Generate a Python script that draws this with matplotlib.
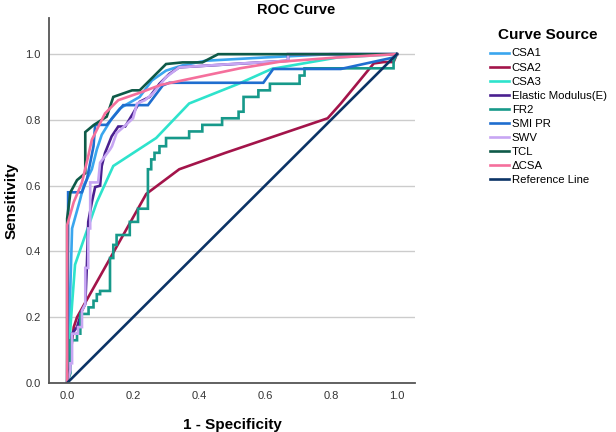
import numpy as np
import matplotlib
matplotlib.use("Agg")
import matplotlib.pyplot as plt

plt.rcParams['font.family'] = ['Liberation Sans', 'DejaVu Sans']

# ROC points (1 - specificity, sensitivity)
csa1_x = [0, 0.005, 0.01, 0.015, 0.04, 0.05, 0.075, 0.09, 0.105, 0.136, 0.16, 0.185, 0.22, 0.257, 0.3, 0.35, 0.42, 0.6, 0.8, 1.0]
csa1_y = [0, 0.1, 0.3, 0.47, 0.56, 0.6, 0.65, 0.71, 0.755, 0.805, 0.835, 0.85, 0.87, 0.92, 0.95, 0.966, 0.98, 0.99, 1.0, 1.0]

csa2_x = [0, 0.02, 0.03, 0.24, 0.34, 0.48, 0.79, 0.83, 0.93, 0.96, 0.99, 1.0]
csa2_y = [0, 0.17, 0.2, 0.575, 0.65, 0.70, 0.805, 0.85, 0.972, 0.976, 0.976, 1.0]

csa3_x = [0, 0.01, 0.015, 0.024, 0.09, 0.14, 0.27, 0.37, 0.52, 0.62, 0.82, 1.0]
csa3_y = [0, 0.17, 0.24, 0.36, 0.55, 0.66, 0.745, 0.85, 0.91, 0.955, 0.99, 1.0]

em_x = [0, 0.01, 0.015, 0.03, 0.045, 0.055, 0.06, 0.064, 0.075, 0.085, 0.1, 0.105, 0.115, 0.135, 0.155, 0.176, 0.2, 0.22, 0.25, 0.28, 0.31, 0.34, 0.67, 0.67, 1.0]
em_y = [0, 0.06, 0.15, 0.17, 0.22, 0.24, 0.36, 0.49, 0.55, 0.596, 0.6, 0.66, 0.70, 0.75, 0.78, 0.78, 0.82, 0.855, 0.87, 0.91, 0.94, 0.96, 0.98, 1.0, 1.0]

fr2_x = [0, 0.01, 0.01, 0.03, 0.03, 0.04, 0.04, 0.065, 0.065, 0.08, 0.08, 0.09, 0.09, 0.1, 0.1, 0.13,
         0.13, 0.14, 0.14, 0.15, 0.15, 0.19, 0.19, 0.215, 0.215, 0.245, 0.245, 0.255, 0.255, 0.265,
         0.265, 0.28, 0.28, 0.30, 0.30, 0.37, 0.37, 0.41, 0.41, 0.47, 0.47, 0.52, 0.52, 0.535, 0.535,
         0.58, 0.58, 0.615, 0.615, 0.705, 0.705, 0.72, 0.72, 0.99, 0.99, 1.0]
fr2_y = [0, 0.03, 0.13, 0.13, 0.15, 0.15, 0.21, 0.21, 0.23, 0.23, 0.25, 0.25, 0.27, 0.27, 0.28, 0.28,
         0.38, 0.38, 0.42, 0.42, 0.45, 0.45, 0.49, 0.49, 0.53, 0.53, 0.65, 0.65, 0.68, 0.68,
         0.70, 0.70, 0.72, 0.72, 0.745, 0.745, 0.765, 0.765, 0.785, 0.785, 0.805, 0.805, 0.825, 0.825, 0.87,
         0.87, 0.89, 0.89, 0.91, 0.91, 0.935, 0.935, 0.957, 0.957, 0.98, 1.0]

smi_x = [0, 0.003, 0.003, 0.045, 0.06, 0.08, 0.085, 0.12, 0.17, 0.245, 0.29, 0.31, 0.595, 0.625, 0.83, 0.99, 1.0]
smi_y = [0, 0.45, 0.58, 0.58, 0.62, 0.72, 0.785, 0.785, 0.845, 0.845, 0.905, 0.913, 0.913, 0.955, 0.955, 0.99, 1.0]

swv_x = [0, 0.01, 0.01, 0.015, 0.015, 0.033, 0.033, 0.045, 0.045, 0.055, 0.055, 0.064, 0.064, 0.07, 0.07,
         0.094, 0.1, 0.13, 0.136, 0.15, 0.167, 0.2, 0.212, 0.236, 0.26, 0.3, 0.34, 0.5, 0.67, 0.67, 1.0]
swv_y = [0, 0.04, 0.06, 0.06, 0.15, 0.15, 0.17, 0.17, 0.22, 0.24, 0.35, 0.35, 0.47, 0.47, 0.61,
         0.61, 0.67, 0.71, 0.72, 0.76, 0.775, 0.805, 0.85, 0.86, 0.88, 0.93, 0.96, 0.97, 0.98, 1.0, 1.0]

tcl_x = [0, 0.0, 0.01, 0.03, 0.055, 0.055, 0.08, 0.12, 0.14, 0.197, 0.22, 0.3, 0.35, 0.41, 0.458, 1.0]
tcl_y = [0, 0.5, 0.58, 0.617, 0.638, 0.763, 0.784, 0.81, 0.87, 0.89, 0.89, 0.97, 0.975, 0.975, 1.0, 1.0]

dcsa_x = [0, 0.0, 0.02, 0.045, 0.064, 0.075, 0.095, 0.115, 0.155, 0.227, 0.282, 0.424, 0.524, 0.645, 0.82, 1.0]
dcsa_y = [0, 0.48, 0.55, 0.61, 0.69, 0.74, 0.78, 0.82, 0.86, 0.885, 0.906, 0.936, 0.957, 0.977, 0.99, 1.0]

ref_x = [0, 1]
ref_y = [0, 1]

labels = ["CSA1", "CSA2", "CSA3", "Elastic Modulus(E)", "FR2", "SMI PR", "SWV", "TCL", "ΔCSA", "Reference Line"]
colors = ["#3aa6ee", "#a3144a", "#2ee3cc", "#4a2090", "#17998a", "#1f6ecf", "#c7a6f3", "#0e5a48", "#f56f9c", "#0b3366"]
series = [(csa1_x, csa1_y), (csa2_x, csa2_y), (csa3_x, csa3_y), (em_x, em_y), (fr2_x, fr2_y),
          (smi_x, smi_y), (swv_x, swv_y), (tcl_x, tcl_y), (dcsa_x, dcsa_y), (ref_x, ref_y)]

fig = plt.figure(figsize=(6.16, 4.32), dpi=100)
ax = fig.add_axes([49 / 616, 49 / 432, 366 / 616, 365 / 432])

handles = []
for (x, y), c, lab in zip(series, colors, labels):
    h, = ax.plot(x, y, color=c, lw=1.9, label=lab, solid_joinstyle="miter")
    handles.append(h)

ax.set_xlim(-0.055, 1.055)
ax.set_ylim(0, 1.11)
ax.set_xticks([0, 0.2, 0.4, 0.6, 0.8, 1.0])
ax.set_yticks([0, 0.2, 0.4, 0.6, 0.8, 1.0])
ax.set_xticklabels(["0.0", "0.2", "0.4", "0.6", "0.8", "1.0"])
ax.set_yticklabels(["0.0", "0.2", "0.4", "0.6", "0.8", "1.0"])
ax.tick_params(length=0, labelsize=8, colors="#333333", pad=6)
ax.yaxis.grid(True, color="#cccccc", lw=1)
ax.set_axisbelow(True)
for s in ["top", "right"]:
    ax.spines[s].set_visible(False)
for s in ["left", "bottom"]:
    ax.spines[s].set_color("#555555")
    ax.spines[s].set_linewidth(1.3)

ax.set_xlabel("1 - Specificity", fontsize=11, fontweight="bold")
ax.xaxis.set_label_coords((232 - 49) / 366, -(418 - 383) / 365)
ax.set_ylabel("Sensitivity", fontsize=11, fontweight="bold")
ax.yaxis.set_label_coords(-(49 - 19) / 366, 0.5)
fig.text(296 / 616, 1 - 10 / 432, "ROC Curve", ha="center", va="center", fontsize=10.5, fontweight="bold")

leg = fig.legend(handles, labels, loc="upper left", bbox_to_anchor=(485 / 616, 1 - 23 / 432),
                 frameon=False, fontsize=8.2, handlelength=1.7, handletextpad=0.25,
                 labelspacing=0.36, title="Curve Source", borderaxespad=0)
leg.get_title().set_fontweight("bold")
leg.get_title().set_fontsize(11)
leg._legend_box.sep = 5

fig.savefig("out.png", dpi=100)
